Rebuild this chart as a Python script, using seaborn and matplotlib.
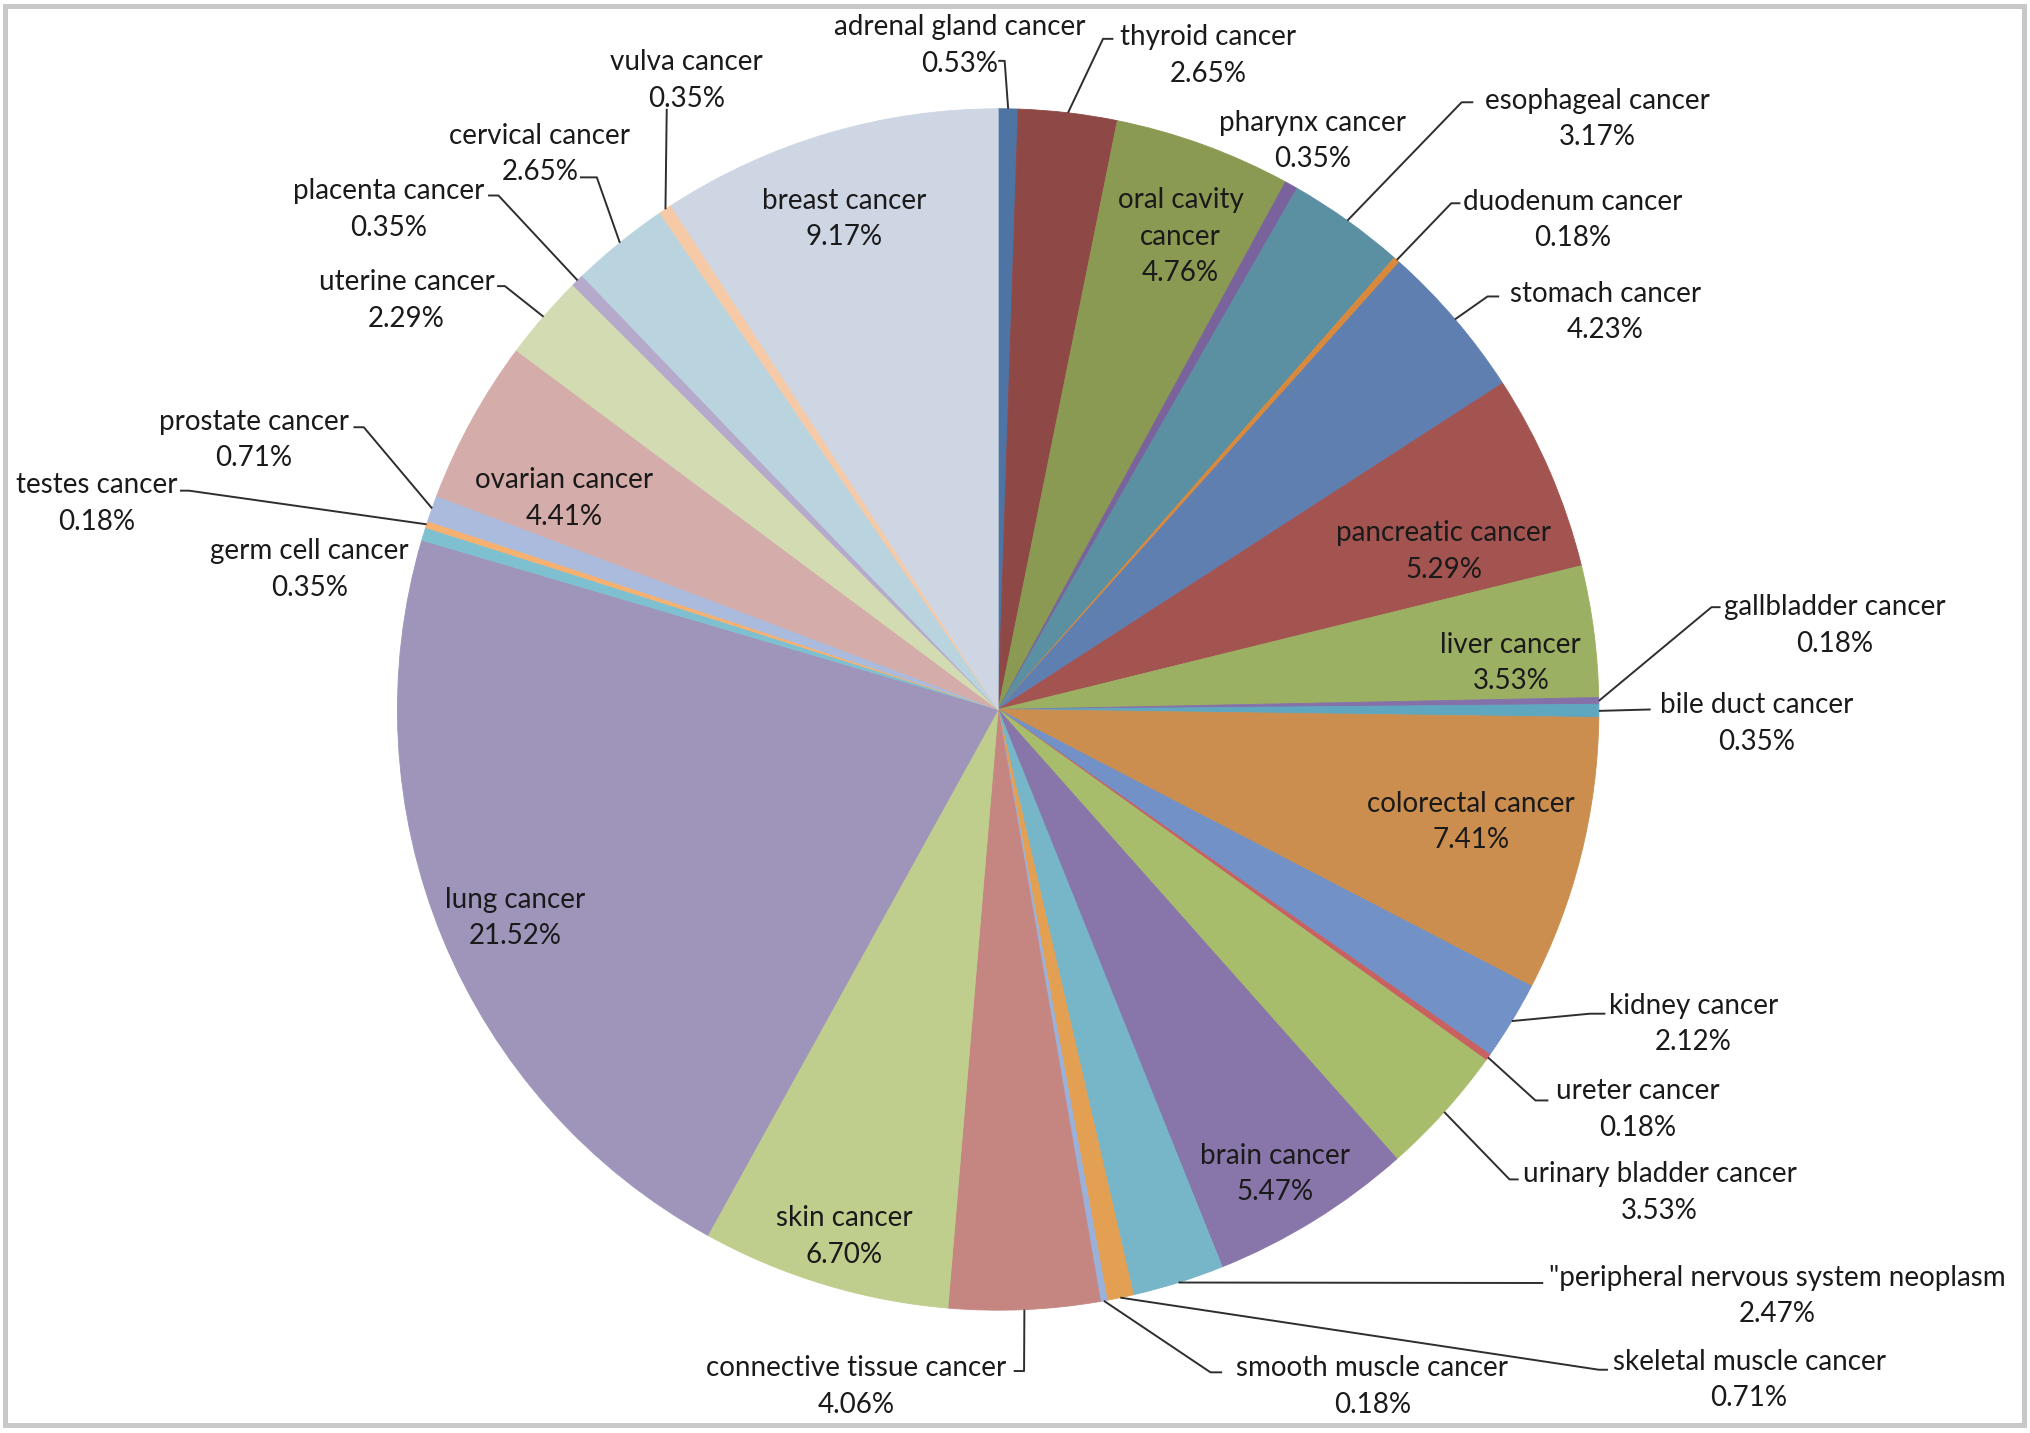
import matplotlib
matplotlib.use("Agg")
import matplotlib.pyplot as plt
import seaborn as sns
import numpy as np
from matplotlib.patches import Rectangle

# ---------------- data ----------------
categories = [
    "adrenal gland cancer", "thyroid cancer", "oral cavity cancer", "pharynx cancer",
    "esophageal cancer", "duodenum cancer", "stomach cancer", "pancreatic cancer",
    "liver cancer", "gallbladder cancer", "bile duct cancer", "colorectal cancer",
    "kidney cancer", "ureter cancer", "urinary bladder cancer", "brain cancer",
    "\"peripheral nervous system neoplasm", "skeletal muscle cancer", "smooth muscle cancer",
    "connective tissue cancer", "skin cancer", "lung cancer", "germ cell cancer",
    "testes cancer", "prostate cancer", "ovarian cancer", "uterine cancer",
    "placenta cancer", "cervical cancer", "vulva cancer", "breast cancer",
]
shares = [
    0.53, 2.65, 4.76, 0.35,
    3.17, 0.18, 4.23, 5.29,
    3.53, 0.18, 0.35, 7.41,
    2.12, 0.18, 3.53, 5.47,
    2.47, 0.71, 0.18,
    4.06, 6.70, 21.52, 0.35,
    0.18, 0.71, 4.41, 2.29,
    0.35, 2.65, 0.35, 9.17,
]
slice_colors = [
    "#4E74A3", "#8E4846", "#8A9A52", "#7A639C",
    "#5B8FA2", "#D9893C", "#607FB1", "#A35350",
    "#9CB063", "#8571A9", "#5FA6BF", "#CB8E4E",
    "#7291C6", "#C96161", "#A8BD6B", "#8875A9",
    "#77B5C9", "#E3A052", "#9AB1DB",
    "#C58682", "#BFCE8D", "#9F94BA", "#7FC0D0",
    "#F6B171", "#AABBDD", "#D4ACA9", "#D2DBB2",
    "#B5A9CC", "#BAD4DF", "#F7CAA7", "#CED6E4",
]

# ---------------- style / layout ----------------
sns.set_theme(style="white")
plt.rcParams["font.family"] = ["Lato", "DejaVu Sans"]

W, H = 2030, 1433
S = W / 1568.0          # layout below is measured on a 1568-wide grid
TEXT_DY = 3             # vertical nudge for text blocks (grid px)


def D(x, y):
    return x * S, H - y * S


# text centres and leader (elbow x, elbow y, end x) on the 1568 grid
label_pos = {
    "adrenal gland cancer": ((741, 32), (776, 47, 771)),
    "thyroid cancer": ((933, 40), (852, 30, 860)),
    "oral cavity cancer": ((912, 180), None),
    "pharynx cancer": ((1014, 106), None),
    "esophageal cancer": ((1234, 89), (1129, 79, 1138)),
    "duodenum cancer": ((1215, 167), (1121, 157, 1128)),
    "stomach cancer": ((1240, 238), (1149, 229, 1158)),
    "pancreatic cancer": ((1115, 423), None),
    "liver cancer": ((1167, 509), None),
    "gallbladder cancer": ((1417, 480), (1322, 469, 1329)),
    "bile duct cancer": ((1357, 556), (1275, 548, 1275)),
    "colorectal cancer": ((1136, 632), None),
    "kidney cancer": ((1308, 788), (1228, 783, 1240)),
    "ureter cancer": ((1265, 854), (1186, 850, 1196)),
    "urinary bladder cancer": ((1282, 918), (1166, 911, 1173)),
    "brain cancer": ((985, 904), None),
    "\"peripheral nervous system neoplasm": ((1373, 998), (1192, 991, 1192)),
    "skeletal muscle cancer": ((1351, 1063), (1235, 1058, 1242)),
    "smooth muscle cancer": ((1060, 1068), (935, 1060, 944)),
    "connective tissue cancer": ((661, 1068), (791, 1059, 783)),
    "skin cancer": ((652, 952), None),
    "lung cancer": ((398, 706), None),
    "germ cell cancer": ((239, 437), None),
    "testes cancer": ((75, 386), (146, 379, 139)),
    "prostate cancer": ((196, 337), (281, 330, 273)),
    "ovarian cancer": ((436, 382), None),
    "uterine cancer": ((314, 229), (390, 221, 384)),
    "placenta cancer": ((300, 159), (385, 151, 377)),
    "cervical cancer": ((417, 116), (461, 137, 448)),
    "vulva cancer": ((530, 59), (515, 84, 515)),
    "breast cancer": ((652, 166), None),
}
display_name = {"oral cavity cancer": "oral cavity\ncancer"}

fig = plt.figure(figsize=(W / 100, H / 100), dpi=100)
ax = fig.add_axes([0, 0, 1, 1])

cx, cy = D(771, 548)
R = 464 * S
palette = sns.color_palette(slice_colors)
wedges, _ = ax.pie(shares, colors=palette, startangle=90, counterclock=False,
                   center=(cx, cy), radius=R,
                   wedgeprops=dict(linewidth=0.6))
for w in wedges:
    w.set_edgecolor(w.get_facecolor())

ax.set_xlim(0, W)
ax.set_ylim(0, H)
ax.set_aspect("equal")
ax.axis("off")

line_kw = dict(color="#2e2e2e", lw=1.4, solid_capstyle="butt")
for name, val, w in zip(categories, shares, wedges):
    (tx, ty), leader = label_pos[name]
    txt = f"{display_name.get(name, name)}\n{val:.2f}%"
    x, y = D(tx, ty + TEXT_DY)
    ax.text(x, y, txt, ha="center", va="center", multialignment="center",
            fontsize=20, color="#1a1a1a", linespacing=1.5)
    if leader is not None:
        mid = np.deg2rad((w.theta1 + w.theta2) / 2)
        ex, ey = cx + R * np.cos(mid), cy + R * np.sin(mid)
        bx, by = D(leader[0], leader[1])
        endx, _ = D(leader[2], leader[1])
        ax.plot([ex, bx, endx], [ey, by, by], **line_kw)

# outer grey frame
ax.add_patch(Rectangle((5.5, 8), W - 11, H - 13.5, fill=False,
                       edgecolor="#C8C8C8", lw=3.6, clip_on=False))

fig.savefig("out.png", dpi=100, facecolor="white")
